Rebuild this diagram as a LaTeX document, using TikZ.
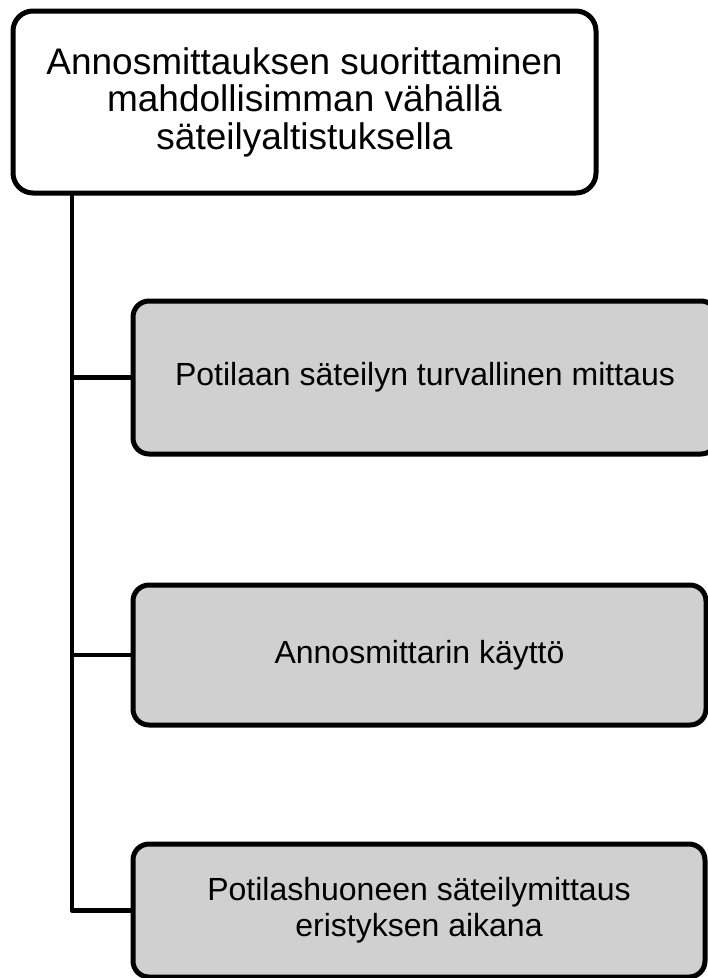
\documentclass[tikz,border=0pt]{standalone}
\usepackage{fontspec}
\setmainfont{Liberation Sans}
\begin{document}
\begin{tikzpicture}[x=1pt,y=-1pt,
  topbox/.style={draw=black, line width=5pt, rounded corners=20pt, fill=white,
    inner sep=0pt, align=center, font=\fontsize{37pt}{37.5pt}\selectfont},
  childbox/.style={draw=black, line width=5pt, rounded corners=16pt, fill=boxgray,
    inner sep=0pt, align=center, font=\fontsize{32pt}{36pt}\selectfont},
  conn/.style={draw=black, line width=4.5pt, line join=round}]
\definecolor{boxgray}{HTML}{D0D0D0}
\clip (0,0) rectangle (708,978);
\node[topbox, minimum width=583pt, minimum height=182pt] (top) at (304.5,102)
  {Annosmittauksen suorittaminen\\mahdollisimman vähällä\\säteilyaltistuksella};
\node[childbox, minimum width=584pt, minimum height=153pt] (c1) at (425,377.5)
  {Potilaan säteilyn turvallinen mittaus};
\node[childbox, minimum width=573pt, minimum height=140pt] (c2) at (419.5,655)
  {Annosmittarin käyttö};
\node[childbox, minimum width=572pt, minimum height=133pt] (c3) at (419,910.5)
  {Potilashuoneen säteilymittaus\\eristyksen aikana};
\coordinate (trunk) at (72,193);
\draw[conn] (trunk |- c1.west) -- (c1.west);
\draw[conn] (trunk |- c2.west) -- (c2.west);
\draw[conn] (trunk) |- (c3.west);
\end{tikzpicture}
\end{document}
